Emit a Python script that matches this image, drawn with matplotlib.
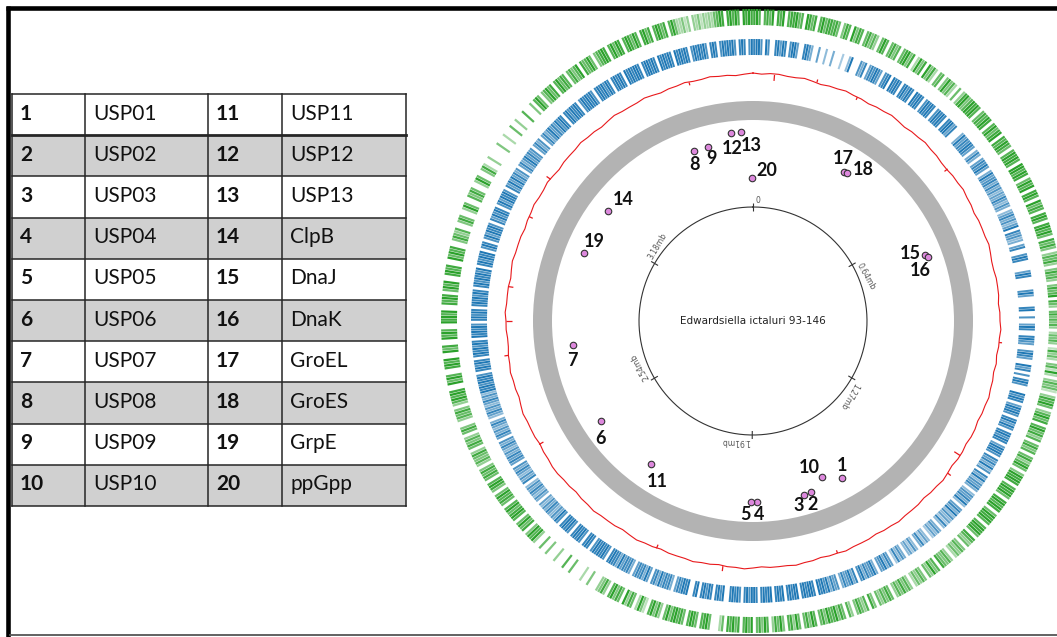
import numpy as np
import matplotlib.pyplot as plt
from matplotlib.patches import Rectangle

plt.rcParams['font.family'] = ['Lato', 'DejaVu Sans']

W, H = 1057, 637

# ---- table data ----
row_ids = list(range(1, 21))
gene_names = ["USP01", "USP02", "USP03", "USP04", "USP05", "USP06", "USP07",
              "USP08", "USP09", "USP10", "USP11", "USP12", "USP13", "ClpB",
              "DnaJ", "DnaK", "GroEL", "GroES", "GrpE", "ppGpp"]

# ---- genome map data ----
GENOME_MB = 3.812
tick_mb = [0, 0.64, 1.27, 1.91, 2.54, 3.18]
genome_name = "Edwardsiella ictaluri 93-146"

# position of each gene (Mb) and its track value (radius)
gene_mb = [1.594, 1.708, 1.733, 1.892, 1.912, 2.506, 2.779, 3.610, 3.659, 1.653,
           2.282, 3.741, 3.774, 3.253, 0.731, 0.741, 0.332, 0.343, 3.091, 3.808]
gene_val = [180.5, 180.6, 181.3, 181.0, 181.0, 182.0, 181.6, 180.0, 179.7, 170.6,
            175.7, 189.3, 189.4, 182.0, 184.2, 186.3, 174.6, 175.3, 182.2, 143.0]

# feature density per 0.5 deg (0 = none, 9 = full), outer (green) and inner (blue) tracks
green_track = (
    "897078690879078896709868079688" "786058709587068574069706857068"
    "958039580958306705957306048957" "989706879807968908798607989709"
    "979806979089709687089708979608" "685047684058674058679086406857"
    "574036574028463057293047562048" "796047968079684706857068479605"
    "989807989608979806989707989608" "746057463047568075946057463047"
    "585740685746058074685047068597" "795860795860694870596840795860"
    "969708697806300069870689706879" "859604859702593068490685970485"
    "400050030000600700040005006004" "979508696079869706879605897068"
    "685047568406857406850047685047" "979800969700897900968009797009"
    "897900879806979008978009697800" "586470058600496007586004960058"
    "300400000500030006004000700050" "796057968079687068579086796057"
    "898079698079869708968079868079" "633524043524343679808979709898"
)
blue_track = (
    "899709700896980799600897500600" "400500030049000758068798607890"
    "989808979809898079898079898089" "968000596879860585068796059678"
    "585746586475046857469086745068" "007980000698000007960000890070"
    "069800897600798600968070897000" "979806989708969708979806989708"
    "685947085947685047685940685947" "463840574630463850473640574830"
    "685976059768597085976850768597" "989089989809989809898099898089"
    "979807989800979808979809800989" "786058786958706958786058786958"
    "898079898970898079898079898079" "574685746057468574085746857068"
    "685746857068574685046857468574" "989798970897980898979809898970"
    "897980898979808979897908979890" "798079698970869798079698970869"
    "696857068579686706857068579686" "979808979898079898970898979808"
    "989809898998089989809898980989" "898079898970898079898970898079"
)

# GC line deviation every 2 deg, plus narrow spikes
red_dev = [
    1, 0, 1, 1, 0, 0, 1, 0, -1, 0, 0, 1, 0, 0, -1, 0, 0, 1, 0, -1, 0, 0, 1, 0, 0, -1, -1, 0, 0, 1,
    0, 0, -1, 0, 0, 0, 1, 0, -1, -1, 0, 0, 0, -1, 0, 0, 1, 0, 0, -1, 0, -1, 0, 0, 1, 0, 0, -1, 0, 0,
    -1, 0, 0, -1, 0, 1, 0, 0, -1, 0, 0, 0, 1, 0, 0, -1, 0, 0, 0, 1, 0, 0, -1, 0, 0, 1, 0, 0, 0, -1,
    0, 1, 0, 0, -1, 0, 0, 1, 0, 0, 0, -1, 0, 0, 1, 0, -1, 0, 0, 0, 1, 0, 0, -1, 0, 0, 1, 1, 0, 0,
    -1, 0, 0, 0, 1, 0, -1, 0, 0, 1, 0, 0, -1, -1, 0, 0, 1, 0, 0, 0, -1, 0, 1, 0, 0, 0, -1, 0, 0, 1,
    0, 0, 1, 0, -1, 0, 0, 0, 1, 0, 0, -1, 0, 1, 0, 0, 0, 1, 0, -1, 0, 0, 1, 0, 0, 1, 0, 0, -1, 0,
]
spike_deg = [5, 15, 25, 52, 95, 123, 128, 160, 187, 203, 240, 262, 270, 278, 295, 305, 345]
spike_dev = [-6, 3, -3, -4, 3, -7, 4, -3, 5, -4, -5, 4, -6, -5, -4, 5, -3]

# label offsets (pixels) relative to each marker
label_off = {1: (0, 13), 2: (2, -12), 3: (-5, -11), 4: (2, -13), 5: (-6, -13),
             6: (0, -17), 7: (-1, -16), 8: (0, -14), 9: (3, -12), 10: (-13, 9),
             11: (6, -17), 12: (1, -16), 13: (10, -14), 14: (15, 11), 15: (-15, 2),
             16: (-8, -13), 17: (-1, 13), 18: (16, 3), 19: (10, 12), 20: (15, 8)}

fig = plt.figure(figsize=(W / 100, H / 100), dpi=100)

# ---- base layer: frame and table (pixel coordinates) ----
ax0 = fig.add_axes([0, 0, 1, 1])
ax0.set_xlim(0, W)
ax0.set_ylim(H, 0)
ax0.axis('off')

ax0.plot([6, W], [7.5, 7.5], color='black', lw=3.3, solid_capstyle='butt')
ax0.plot([8, 8], [5.5, H], color='black', lw=3.3, solid_capstyle='butt')
ax0.plot([10, W], [635, 635], color='#555555', lw=1.3)

col_x = [12, 85, 208, 282, 406]
row_top, row_h = 94, 41.2
n_rows = 10
for i in range(n_rows):
    y0 = row_top + i * row_h
    if i % 2 == 1:
        ax0.add_patch(Rectangle((col_x[0], y0), col_x[-1] - col_x[0], row_h,
                                facecolor='#d0d0d0', edgecolor='none'))
    yc = y0 + row_h / 2 - 1
    for half in range(2):
        k = i + half * n_rows
        ax0.text(col_x[2 * half] + 8, yc, str(row_ids[k]), fontsize=15,
                 fontweight='bold', ha='left', va='center', color='#111111')
        ax0.text(col_x[2 * half + 1] + 8, yc, gene_names[k], fontsize=15,
                 ha='left', va='center', color='#111111')
for i in range(n_rows + 1):
    y = row_top + i * row_h
    ax0.plot([col_x[0], col_x[-1]], [y, y], color='#262626',
             lw=2.0 if i == 1 else 1.1)
for x in col_x:
    ax0.plot([x, x], [row_top, row_top + n_rows * row_h], color='#262626', lw=1.1)

# ---- circular genome map ----
cx, cy, R = 753, 321, 320
ax = fig.add_axes([(cx - R) / W, (H - cy - R) / H, 2 * R / W, 2 * R / H],
                  projection='polar')
ax.set_theta_zero_location('N')
ax.set_theta_direction(-1)
ax.set_rlim(0, R)
ax.set_axis_off()

step = np.radians(0.5)


def draw_track(track, r0, dr, rgb):
    vals = np.array([int(c) for c in track])
    idx = np.nonzero(vals)[0]
    theta = (idx + 0.5) * step
    colors = [(*rgb, 0.1 + 0.9 * v / 9) for v in vals[idx]]
    ax.bar(theta, dr, width=step * 0.85, bottom=r0, color=colors, linewidth=0)


draw_track(green_track, 296, 16, (0.17, 0.63, 0.17))
draw_track(blue_track, 266, 16, (0.12, 0.47, 0.71))

# GC line
red_theta = np.radians(np.arange(len(red_dev)) * 2.0)
red_r = 247 + np.array(red_dev) * 1.0
ax.plot(np.append(red_theta, red_theta[0]), np.append(red_r, red_r[0]),
        color='#e8191c', lw=0.8)
ax.vlines(np.radians(spike_deg), 247, 247 + np.array(spike_dev),
          color='#e8191c', lw=0.9)

# grey ring
ax.bar(0, 19, width=2 * np.pi, bottom=201, align='edge', color='#b3b3b3',
       linewidth=0)

# inner scale circle
circ = np.linspace(0, 2 * np.pi, 400)
ax.plot(circ, np.full_like(circ, 114), color='#333333', lw=0.8)
tick_theta = np.array(tick_mb) / GENOME_MB * 2 * np.pi
ax.vlines(tick_theta, 110, 118, color='#333333', lw=0.8)
for mb, th in zip(tick_mb, tick_theta):
    lab = "0" if mb == 0 else f"{mb}mb"
    ax.text(th + np.radians(1.0), 116, lab, rotation=-np.degrees(th),
            rotation_mode='anchor', ha='left', va='bottom', fontsize=5.5,
            color='#555555', family='DejaVu Sans')
ax.text(0, 0, genome_name, ha='center', va='center', fontsize=7.5,
        family='DejaVu Sans', color='#222222')

# genes
gene_theta = np.array(gene_mb) / GENOME_MB * 2 * np.pi
ax.scatter(gene_theta, gene_val, s=22, c='#dd88dd', edgecolors='#333333',
           linewidths=0.8, zorder=5)
for gid, th, r in zip(row_ids, gene_theta, gene_val):
    dx, dy = label_off[gid]
    ax.annotate(str(gid), (th, r), xytext=(dx, dy), textcoords='offset pixels',
                ha='center', va='center', fontsize=13, fontweight='bold',
                color='#111111', zorder=6)

fig.savefig('out.png', dpi=100)
